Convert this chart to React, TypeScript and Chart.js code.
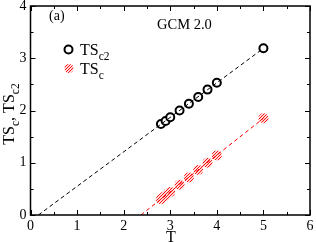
import React, { useEffect, useRef } from "react";
import { Chart, registerables } from "chart.js";
Chart.register(...registerables);

const tC2 = [2.8, 2.9, 3.0, 3.2, 3.4, 3.6, 3.8, 4.0, 5.0];
const tsC2 = [1.74, 1.8, 1.87, 2.0, 2.13, 2.26, 2.4, 2.53, 3.19];
const tC = [2.8, 2.85, 2.9, 2.95, 3.0, 3.2, 3.4, 3.6, 3.8, 4.0, 5.0];
const tsC = [0.3, 0.34, 0.37, 0.41, 0.44, 0.58, 0.72, 0.86, 1.0, 1.14, 1.85];
const fitC2T = [0.17, 5.0];
const fitC2Y = [0, 3.19];
const fitCT = [2.37, 5.0];
const fitCY = [0, 1.85];
const xTicks = [0, 1, 2, 3, 4, 5, 6];
const yTicks = [0, 1, 2, 3, 4];

const SERIF = "'Liberation Serif', 'DejaVu Serif', serif";

function hatch(): CanvasPattern | string {
  const c = document.createElement("canvas");
  c.width = 3;
  c.height = 3;
  const g = c.getContext("2d");
  if (!g) return "red";
  g.fillStyle = "#ffd8d8";
  g.fillRect(0, 0, 3, 3);
  g.fillStyle = "#ff1010";
  g.fillRect(0, 2, 1, 1);
  g.fillRect(1, 1, 1, 1);
  g.fillRect(2, 0, 1, 1);
  const p = g.createPattern(c, "repeat");
  return p || "red";
}

function subText(ctx: CanvasRenderingContext2D, parts: [string, boolean][], x: number, y: number, size: number) {
  let cx = x;
  for (const [t, sub] of parts) {
    ctx.font = `${sub ? size * 0.72 : size}px ${SERIF}`;
    ctx.fillText(t, cx, sub ? y + size * 0.3 : y);
    cx += ctx.measureText(t).width;
  }
}

function measureParts(ctx: CanvasRenderingContext2D, parts: [string, boolean][], size: number) {
  let w = 0;
  for (const [t, sub] of parts) {
    ctx.font = `${sub ? size * 0.72 : size}px ${SERIF}`;
    w += ctx.measureText(t).width;
  }
  return w;
}

const decor = {
  id: "decor",
  afterDraw(chart: any) {
    const ctx: CanvasRenderingContext2D = chart.ctx;
    const xs = chart.scales.x;
    const ys = chart.scales.y;
    const a = chart.chartArea;
    ctx.save();
    ctx.strokeStyle = "#000";
    ctx.lineWidth = 1.5;
    ctx.strokeRect(a.left, a.top, a.right - a.left, a.bottom - a.top);
    ctx.lineWidth = 1;
    ctx.beginPath();
    for (let v = 0; v <= 6.001; v += 0.5) {
      const px = Math.round(xs.getPixelForValue(v)) + 0.5;
      const len = Math.abs(v - Math.round(v)) < 1e-6 ? 5 : 3;
      ctx.moveTo(px, a.bottom);
      ctx.lineTo(px, a.bottom - len);
      ctx.moveTo(px, a.top);
      ctx.lineTo(px, a.top + len);
    }
    for (let v = 0; v <= 4.001; v += 0.5) {
      const py = Math.round(ys.getPixelForValue(v)) + 0.5;
      const len = Math.abs(v - Math.round(v)) < 1e-6 ? 5 : 3;
      ctx.moveTo(a.left, py);
      ctx.lineTo(a.left + len, py);
      ctx.moveTo(a.right, py);
      ctx.lineTo(a.right - len, py);
    }
    ctx.stroke();

    ctx.fillStyle = "#000";
    ctx.textBaseline = "alphabetic";
    ctx.textAlign = "left";
    ctx.font = `14px ${SERIF}`;
    ctx.fillText("(a)", 49, 20);
    ctx.font = `14.5px ${SERIF}`;
    ctx.fillText("GCM 2.0", 157, 29);

    // legend
    ctx.lineWidth = 2;
    ctx.strokeStyle = "#000";
    ctx.beginPath();
    ctx.arc(68.5, 49.5, 4, 0, Math.PI * 2);
    ctx.stroke();
    ctx.fillStyle = hatch() as any;
    ctx.beginPath();
    ctx.arc(69, 68.5, 4.5, 0, Math.PI * 2);
    ctx.fill();
    ctx.fillStyle = "#000";
    subText(ctx, [["TS", false], ["c2", true]], 80, 55, 16);
    subText(ctx, [["TS", false], ["c", true]], 80, 74, 16);

    ctx.font = `16px ${SERIF}`;
    ctx.textAlign = "center";
    ctx.fillText("T", 171, 242);

    ctx.textAlign = "left";
    const yParts: [string, boolean][] = [["TS", false], ["c", true], [", TS", false], ["c2", true]];
    const w = measureParts(ctx, yParts, 16);
    ctx.translate(14, 114);
    ctx.rotate(-Math.PI / 2);
    subText(ctx, yParts, -w / 2, 0, 16);
    ctx.restore();
  },
};

export default function App() {
  const ref = useRef<HTMLCanvasElement>(null);
  useEffect(() => {
    document.body.style.margin = "0";
    const pat = hatch();
    const chart = new Chart(ref.current as HTMLCanvasElement, {
      type: "scatter",
      data: {
        datasets: [
          {
            label: "fitC2",
            type: "line",
            data: fitC2T.map((x, i) => ({ x, y: fitC2Y[i] })),
            borderColor: "#000",
            borderWidth: 1,
            borderDash: [4, 3],
            pointRadius: 0,
            fill: false,
          },
          {
            label: "fitC",
            type: "line",
            data: fitCT.map((x, i) => ({ x, y: fitCY[i] })),
            borderColor: "#ff0000",
            borderWidth: 1,
            borderDash: [4, 3],
            pointRadius: 0,
            fill: false,
          },
          {
            label: "TSc2",
            data: tC2.map((x, i) => ({ x, y: tsC2[i] })),
            pointRadius: 4,
            pointBorderWidth: 2,
            pointBorderColor: "#000",
            pointBackgroundColor: "#fff",
          },
          {
            label: "TSc",
            data: tC.map((x, i) => ({ x, y: tsC[i] })),
            pointRadius: 5,
            pointBorderWidth: 0,
            pointBorderColor: "#ff0000",
            pointBackgroundColor: pat as any,
          },
        ],
      },
      options: {
        animation: false,
        responsive: false,
        maintainAspectRatio: false,
        layout: { padding: { left: 0, right: 4, top: 5, bottom: 0 } },
        plugins: { legend: { display: false }, tooltip: { enabled: false } },
        scales: {
          x: {
            type: "linear",
            min: 0,
            max: 6,
            afterBuildTicks: (s: any) => {
              s.ticks = xTicks.map((v) => ({ value: v }));
            },
            afterFit: (s: any) => {
              s.height = 27;
              s.paddingLeft = 0;
              s.paddingRight = 0;
            },
            grid: { display: false, drawTicks: false },
            border: { display: false },
            ticks: { font: { family: SERIF, size: 14 }, color: "#000", padding: 3 },
          },
          y: {
            type: "linear",
            min: 0,
            max: 4,
            afterBuildTicks: (s: any) => {
              s.ticks = yTicks.map((v) => ({ value: v }));
            },
            afterFit: (s: any) => {
              s.width = 30.5;
              s.paddingTop = 0;
              s.paddingBottom = 0;
            },
            grid: { display: false, drawTicks: false },
            border: { display: false },
            ticks: { font: { family: SERIF, size: 14 }, color: "#000", padding: 4 },
          },
        },
      },
      plugins: [decor],
    });
    return () => chart.destroy();
  }, []);
  return (
    <div style={{ width: 316, height: 242 }}>
      <canvas ref={ref} width={316} height={242} />
    </div>
  );
}
